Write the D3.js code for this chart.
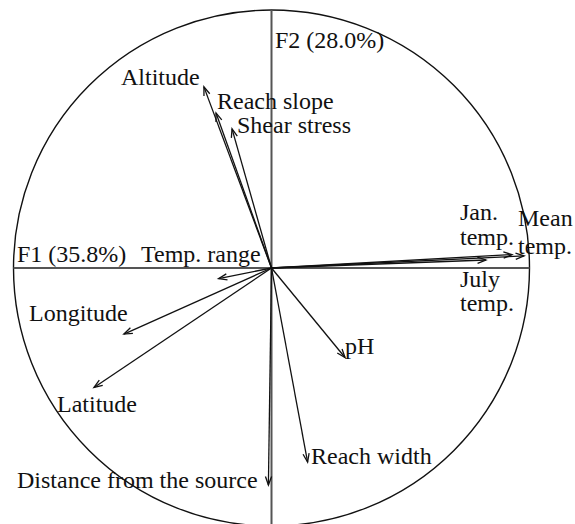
<!DOCTYPE html>
<html>
<head>
<meta charset="utf-8">
<script src="https://cdn.jsdelivr.net/npm/d3@7.9.0/dist/d3.min.js"></script>
<style>
  html, body { margin: 0; padding: 0; background: #fff; }
  text { font-family: "Liberation Serif", "Times New Roman", serif; font-size: 24px; fill: #111; }
</style>
</head>
<body>
<svg id="chart" width="575" height="524"></svg>
<script>
// correlations of each variable with F1 / F2
const variables = ['Altitude', 'Reach slope', 'Shear stress', 'Temp. range', 'Longitude', 'Latitude',
                   'pH', 'Reach width', 'Distance from the source', 'Mean temp.', 'Jan. temp.', 'July temp.'];
const f1 = [-0.262, -0.215, -0.153, -0.205, -0.572, -0.688, 0.285, 0.140, -0.012, 0.979, 0.932, 0.831];
const f2 = [ 0.702,  0.601,  0.539, -0.041, -0.256, -0.463, -0.347, -0.752, -0.841, 0.047, 0.052, 0.031];
const axisTitles = ['F1 (35.8%)', 'F2 (28.0%)'];

// label placement (pixel x, baseline y), line breaks split with '|'
const labelText = ['Altitude', 'Reach slope', 'Shear stress', 'Temp. range', 'Longitude', 'Latitude',
                   'pH', 'Reach width', 'Distance from the source', 'Mean|temp.', 'Jan.|temp.', 'July|temp.'];
const labelPos = [[121, 85], [217, 109], [237, 133], [141, 262], [29, 321], [57, 412],
                  [345, 354], [311, 464], [17, 488], [518, 226], [460, 220], [460, 287]];
const lineGap = [0, 0, 0, 0, 0, 0, 0, 0, 0, 28, 25, 24];

const svg = d3.select('#chart');
const cx = 271.5, cy = 268, R = 258;
const x = d3.scaleLinear().domain([-1, 1]).range([cx - R, cx + R]);
const y = d3.scaleLinear().domain([-1, 1]).range([cy + R, cy - R]);

// unit circle
svg.append('circle')
  .attr('cx', x(0)).attr('cy', y(0)).attr('r', x(1) - x(0))
  .attr('fill', 'none').attr('stroke', '#111').attr('stroke-width', 1.4);

// axes through origin
svg.append('line')
  .attr('x1', x(-1)).attr('x2', x(1)).attr('y1', y(0)).attr('y2', y(0))
  .attr('stroke', '#555').attr('stroke-width', 2);
svg.append('line')
  .attr('x1', x(0)).attr('x2', x(0)).attr('y1', y(1)).attr('y2', y(-1))
  .attr('stroke', '#555').attr('stroke-width', 2);

// arrows with open heads
const head = 9, spread = Math.PI / 9;
const g = svg.append('g').attr('stroke', '#111').attr('stroke-width', 1.3).attr('fill', 'none');
variables.forEach((v, i) => {
  const x0 = x(0), y0 = y(0), x1 = x(f1[i]), y1 = y(f2[i]);
  const a = Math.atan2(y1 - y0, x1 - x0);
  g.append('line').attr('x1', x0).attr('y1', y0).attr('x2', x1).attr('y2', y1);
  const p = d3.path();
  p.moveTo(x1 - head * Math.cos(a - spread), y1 - head * Math.sin(a - spread));
  p.lineTo(x1, y1);
  p.lineTo(x1 - head * Math.cos(a + spread), y1 - head * Math.sin(a + spread));
  g.append('path').attr('d', p.toString());
});

// axis titles
svg.append('text').attr('x', 17).attr('y', 262).text(axisTitles[0]);
svg.append('text').attr('x', 275).attr('y', 48).text(axisTitles[1]);

// variable labels
labelText.forEach((t, i) => {
  const el = svg.append('text').attr('x', labelPos[i][0]).attr('y', labelPos[i][1]);
  t.split('|').forEach((line, k) => {
    el.append('tspan').attr('x', labelPos[i][0]).attr('dy', k === 0 ? 0 : lineGap[i]).text(line);
  });
});
</script>
</body>
</html>
